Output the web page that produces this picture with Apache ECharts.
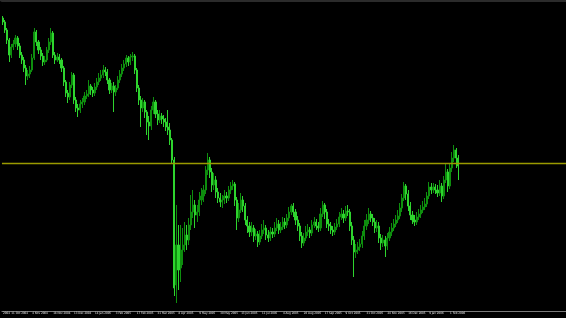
<!DOCTYPE html>
<html>
<head>
<meta charset="utf-8">
<script src="https://cdn.jsdelivr.net/npm/echarts@6/dist/echarts.min.js"></script>
<style>
html,body{margin:0;padding:0;background:#000;}
#chart{width:566px;height:318px;}
</style>
</head>
<body>
<div id="chart"></div>
<script>
// Tick labels along the date axis (first one is only partly visible at the left edge)
const tickLabels = [
  "2004", "11 Oct 2004", "4 Nov 2004", "18 Nov 2004", "13 Dec 2004",
  "14 Jan 2005", "3 Feb 2005", "17 Feb 2005", "31 Mar 2005", "8 Apr 2005",
  "9 May 2005", "30 May 2005", "13 Jun 2005", "11 Jul 2005", "4 Aug 2005",
  "26 Aug 2005", "17 Sep 2005", "9 Oct 2005", "31 Oct 2005", "24 Nov 2005",
  "16 Dec 2005", "9 Jan 2006", "1 Feb 2006"
];

// Bars: [open, close, low, high]
const bars = [
  [293,289,286,295],[289,281,278,291],[281,271,267,283],[271,256,249,273],[256,264,253,267],
  [264,267,261,271],[267,273,264,276],[273,265,261,275],[265,256,253,268],[256,251,247,259],
  [251,243,239,254],[243,235,226,246],[235,237,231,241],[237,241,233,245],[241,253,239,257],
  [253,279,251,283],[279,269,265,281],[269,261,257,271],[261,255,251,264],[255,249,245,258],
  [249,251,246,255],[251,261,249,264],[261,269,258,273],[269,278,266,283],[278,256,253,280],
  [256,251,247,259],[251,254,249,258],[254,251,247,257],[251,243,239,253],[243,229,225,245],
  [229,218,214,231],[218,214,208,221],[214,226,211,229],[226,236,223,239],[236,211,207,238],
  [211,203,199,214],[203,201,194,207],[201,207,198,211],[207,209,203,213],[209,215,206,219],
  [215,217,212,221],[217,225,214,231],[225,221,216,227],[221,218,214,224],[218,224,215,228],
  [224,229,221,233],[229,233,226,238],[233,236,230,241],[236,241,233,246],[241,239,235,244],
  [239,231,227,242],[231,221,217,233],[221,225,218,228],[225,219,199,229],[219,223,215,226],
  [223,231,221,235],[231,237,228,241],[237,243,234,247],[243,247,240,251],[247,253,244,256],
  [253,249,245,255],[249,254,246,257],[254,255,250,259],[255,241,237,257],[241,223,219,243],
  [223,211,206,226],[211,203,184,215],[203,209,199,213],[209,199,193,211],[199,189,176,201],
  [189,185,171,195],[185,201,181,205],[201,209,197,214],[209,197,193,211],[197,191,186,201],
  [191,195,188,201],[195,192,187,198],[192,189,184,196],[189,184,180,193],[184,181,176,201],
  [181,171,166,188],[171,151,148,173],[151,23,15,154],[26,66,8,106],[66,41,21,86],
  [43,61,29,86],[61,66,46,83],[66,76,59,89],[76,71,61,86],[71,86,66,93],
  [86,99,81,116],[99,106,93,121],[106,96,83,111],[96,99,89,106],[99,111,95,119],
  [111,115,106,123],[115,121,109,126],[121,141,117,145],[141,151,136,158],[151,139,133,154],
  [139,126,119,143],[126,131,121,138],[131,119,113,135],[119,113,108,123],[113,109,104,118],
  [109,111,103,116],[111,115,107,121],[115,113,108,119],[113,121,110,125],[121,125,117,129],
  [125,127,121,131],[127,111,105,129],[111,93,81,114],[93,101,89,108],[101,111,98,118],
  [111,105,99,115],[105,91,86,108],[91,85,78,95],[85,79,74,89],[79,83,75,89],
  [83,75,69,86],[75,77,71,82],[77,69,64,80],[69,75,66,81],[75,81,72,87],
  [81,83,77,91],[83,76,71,86],[76,73,69,81],[73,79,70,84],[79,77,73,83],
  [77,83,74,89],[83,87,80,93],[87,81,77,91],[81,84,78,89],[84,89,81,94],
  [89,86,82,93],[86,93,83,97],[93,99,90,104],[99,105,96,107],[105,99,94,108],
  [99,91,86,102],[91,85,80,95],[85,75,70,88],[75,68,63,79],[68,73,65,78],
  [73,79,70,85],[79,81,75,87],[81,78,73,84],[78,86,75,91],[86,89,83,94],
  [89,85,81,92],[85,83,79,89],[83,97,80,103],[97,106,94,110],[106,99,92,108],
  [99,87,83,102],[87,85,80,92],[85,81,77,89],[81,79,75,85],[79,84,76,88],
  [84,87,81,92],[87,94,84,99],[94,97,91,103],[97,93,88,101],[93,100,90,105],
  [100,99,95,106],[99,85,80,102],[85,71,66,89],[71,59,34,75],[59,61,53,67],
  [61,64,57,69],[64,67,60,72],[67,75,63,80],[75,85,71,91],[85,91,81,97],
  [91,97,87,103],[97,93,89,100],[93,89,85,97],[89,83,78,93],[83,85,79,91],
  [85,73,68,89],[73,68,61,77],[68,71,64,76],[71,65,54,75],[65,73,61,78],
  [73,79,70,84],[79,83,75,88],[83,87,80,92],[87,91,84,96],[91,95,88,101],
  [95,103,92,108],[103,113,99,117],[113,125,110,129],[125,117,111,127],[117,105,100,121],
  [105,96,91,109],[96,91,87,100],[91,89,85,96],[89,94,86,99],[94,97,91,102],
  [97,101,93,106],[101,104,98,110],[104,107,101,113],[107,115,104,119],[115,124,112,129],
  [124,121,117,128],[121,124,118,128],[124,121,117,127],[121,118,114,126],[118,125,115,131],
  [125,115,109,128],[115,131,112,135],[131,139,128,148],[139,125,119,142],[125,143,122,147],
  [143,153,139,159],[153,161,149,166],[161,153,143,163],[153,145,131,156]
];

// Horizontal level line value
const levelValue = 147.5;

const slotCount = 270;     // total category slots across the axis
const firstTickSlot = 4;   // slot of the first full date label
const tickEvery = 10;

const upColor = '#0e8e0e';
const downColor = '#2ed42e';

const categories = [];
for (let i = 0; i < slotCount; i++) categories.push(String(i));
const seriesData = [];
for (let i = 0; i < slotCount; i++) {
  const b = bars[i];
  if (!b) { seriesData.push('-'); continue; }
  const c = b[1] >= b[0] ? upColor : downColor;
  seriesData.push({value: b, itemStyle: {color: c, color0: c, borderColor: c, borderColor0: c}});
}

function labelIndex(slot) {
  if (slot === 0) return 0;
  if (slot >= firstTickSlot && (slot - firstTickSlot) % tickEvery === 0) {
    const k = (slot - firstTickSlot) / tickEvery + 1;
    return k < tickLabels.length ? k : -1;
  }
  return -1;
}

const chart = echarts.init(document.getElementById('chart'), null, {renderer: 'canvas'});
chart.setOption({
  backgroundColor: '#000000',
  animation: false,
  grid: {left: 0, right: 0, top: 0, bottom: 7, containLabel: false},
  xAxis: [{
    type: 'category',
    data: categories,
    boundaryGap: true,
    axisLine: {show: true, lineStyle: {color: '#7a7a7a', width: 1}},
    axisTick: {show: false},
    splitLine: {show: false},
    axisLabel: {
      show: true,
      interval: function (idx) { return labelIndex(idx) >= 0; },
      formatter: function (val) {
        const k = labelIndex(Number(val));
        return k >= 0 ? tickLabels[k] : '';
      },
      align: 'left',
      fontSize: 3,
      color: '#e6e6e6',
      margin: 1,
      fontFamily: '"Liberation Sans Narrow", "DejaVu Sans Condensed", sans-serif'
    }
  }, {
    type: 'category',
    data: categories,
    position: 'top',
    axisLine: {show: true, lineStyle: {color: '#2b2b2b', width: 4}},
    axisTick: {show: false},
    axisLabel: {show: false}
  }],
  yAxis: {
    type: 'value',
    min: 0,
    max: 311,
    show: false,
    splitLine: {show: false}
  },
  series: [{
    type: 'candlestick',
    xAxisIndex: 0,
    data: seriesData,
    barWidth: 1.6,
    itemStyle: {
      color: upColor,
      color0: downColor,
      borderColor: upColor,
      borderColor0: downColor,
      borderWidth: 1
    },
    markLine: {
      silent: true,
      symbol: ['none', 'none'],
      label: {show: false},
      emphasis: {disabled: true},
      lineStyle: {color: '#9a9a00', width: 1.3, type: 'solid', opacity: 1},
      data: [{yAxis: levelValue}]
    }
  }]
});
</script>
</body>
</html>
